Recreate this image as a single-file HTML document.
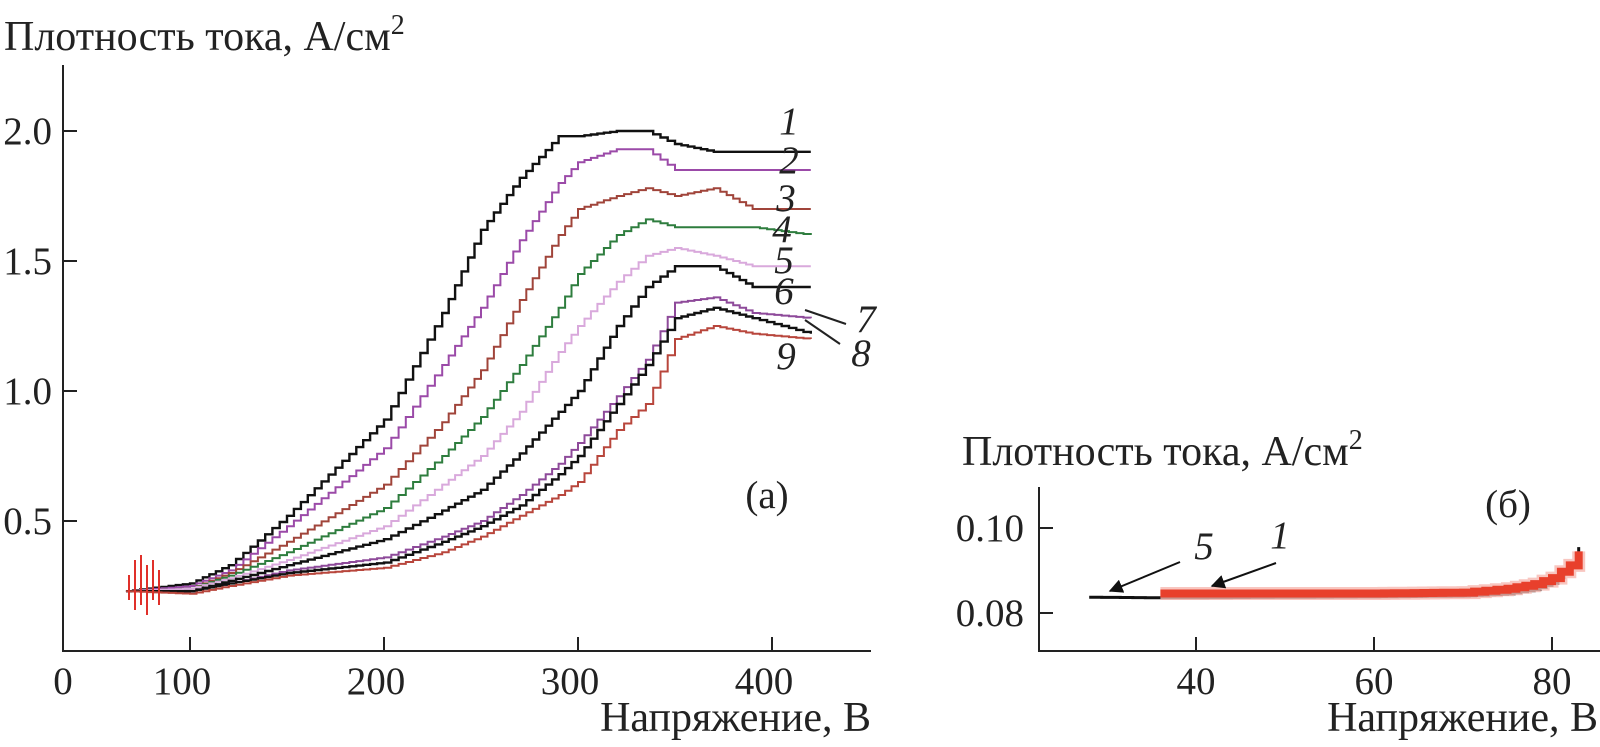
<!DOCTYPE html>
<html><head><meta charset="utf-8">
<style>
html,body{margin:0;padding:0;background:#fff;}
svg{display:block;font-family:"Liberation Serif","Noto Serif CJK SC",serif;}
</style></head>
<body>
<svg id="fig" width="1600" height="747" viewBox="0 0 1600 747" xmlns="http://www.w3.org/2000/svg">
<g id="chartA"></g>
<g id="chartB"></g>
</svg>
<script>
// ---- Chart (a) data ----
const voltA = [67, 100, 120, 150, 200, 230, 250, 270, 290, 300, 320, 335, 350, 370, 390, 420];
const curve1 = [0.23, 0.26, 0.33, 0.52, 0.89, 1.30, 1.62, 1.82, 1.98, 1.98, 2.0, 2.0, 1.95, 1.92, 1.92, 1.92];
const curve2 = [0.23, 0.25, 0.31, 0.48, 0.78, 1.10, 1.32, 1.58, 1.80, 1.88, 1.93, 1.93, 1.85, 1.85, 1.85, 1.85];
const curve3 = [0.23, 0.24, 0.30, 0.42, 0.64, 0.88, 1.08, 1.35, 1.60, 1.70, 1.75, 1.78, 1.75, 1.78, 1.70, 1.70];
const curve4 = [0.23, 0.24, 0.29, 0.38, 0.55, 0.75, 0.90, 1.10, 1.32, 1.45, 1.60, 1.66, 1.63, 1.63, 1.63, 1.60];
const curve5 = [0.23, 0.24, 0.28, 0.35, 0.48, 0.64, 0.75, 0.92, 1.15, 1.25, 1.42, 1.52, 1.55, 1.52, 1.48, 1.48];
const curve6 = [0.23, 0.23, 0.27, 0.33, 0.43, 0.54, 0.62, 0.76, 0.92, 1.00, 1.25, 1.40, 1.48, 1.48, 1.40, 1.40];
const curve7 = [0.23, 0.23, 0.26, 0.31, 0.36, 0.44, 0.50, 0.60, 0.72, 0.80, 0.98, 1.12, 1.34, 1.36, 1.30, 1.28];
const curve8 = [0.23, 0.23, 0.26, 0.30, 0.34, 0.42, 0.48, 0.56, 0.68, 0.75, 0.95, 1.10, 1.28, 1.32, 1.28, 1.22];
const curve9 = [0.23, 0.22, 0.25, 0.29, 0.32, 0.38, 0.44, 0.52, 0.60, 0.65, 0.85, 0.95, 1.20, 1.25, 1.22, 1.20];
const seriesA = [curve1, curve2, curve3, curve4, curve5, curve6, curve7, curve8, curve9];
const colorsA = ["#111", "#9b4aa8", "#a0443a", "#2e7d3e", "#d9a9dc", "#111", "#8e4a9a", "#111", "#b8463c"];
const xTicksA = [100, 200, 300, 400];
const yTicksA = [0.5, 1.0, 1.5, 2.0];
const yTickLabelsA = ["0.5", "1.0", "1.5", "2.0"];

// ---- Chart (b) data ----
const voltB5 = [28, 35, 40, 50, 60, 70, 75, 78, 80, 82, 83];
const dens5 = [0.0837, 0.0836, 0.0836, 0.0837, 0.0838, 0.0840, 0.0845, 0.0855, 0.087, 0.091, 0.0955];
const voltB1 = [36, 40, 50, 60, 70, 75, 78, 80, 82, 83];
const dens1 = [0.0846, 0.0846, 0.0846, 0.0846, 0.0848, 0.0857, 0.0868, 0.0882, 0.0912, 0.0945];
const xTicksB = [40, 60, 80];
const yTicksB = [0.08, 0.10];
const yTickLabelsB = ["0.08", "0.10"];

const NS = "http://www.w3.org/2000/svg";
function mk(parent, tag, attrs, text){
  const e = document.createElementNS(NS, tag);
  for (const k in attrs) e.setAttribute(k, attrs[k]);
  if (text !== undefined) e.textContent = text;
  parent.appendChild(e);
  return e;
}
const xA = v => 190 + (v - 100) * 1.94;
const yA = v => 651 - v * 260;
const xB = v => 1196 + (v - 40) * 8.9;
const yB = v => 613 - (v - 0.08) * 4250;

function stepPath(xs, ys, fx, fy, sub){
  let d = "";
  for (let i = 0; i < xs.length; i++){
    const X = fx(xs[i]), Y = fy(ys[i]);
    if (i === 0){ d += "M" + X + " " + Y; continue; }
    const X0 = fx(xs[i-1]), Y0 = fy(ys[i-1]);
    const n = Math.max(1, Math.round((X - X0) / sub));
    for (let k = 1; k <= n; k++){
      const xx = X0 + (X - X0) * k / n;
      const yy = Y0 + (Y - Y0) * k / n;
      d += " H" + xx.toFixed(1) + " V" + yy.toFixed(1);
    }
  }
  return d;
}
const TF = 39, TT = 42;

// ---- draw chart a ----
const A = document.getElementById("chartA");
let e;
e = mk(A, "line", {x1:63, y1:65, x2:63, y2:651, stroke:"#222", "stroke-width":2});


e = mk(A, "line", {x1:62, y1:651, x2:871, y2:651, stroke:"#222", "stroke-width":2});


xTicksA.forEach((t) => {
  const X = xA(t);
  e = mk(A, "line", {x1:X, y1:651, x2:X, y2:637, stroke:"#222", "stroke-width":2});
  
  
  e = mk(A, "text", {x:X - 8, y:694, "font-size":TF, "text-anchor":"middle", fill:"#222"}, String(t));
  
  
});
e = mk(A, "text", {x:63, y:694, "font-size":TF, "text-anchor":"middle", fill:"#222"}, "0");


yTicksA.forEach((t, i) => {
  const Y = yA(t);
  e = mk(A, "line", {x1:63, y1:Y, x2:77, y2:Y, stroke:"#222", "stroke-width":2});
  
  
  e = mk(A, "text", {x:52, y:Y + 13, "font-size":TF, "text-anchor":"end", fill:"#222"}, yTickLabelsA[i]);
  
  
});
e = mk(A, "text", {x:4, y:50, "font-size":TT, fill:"#222"}, "Плотность тока, А/см");


mk(e, "tspan", {"font-size":28, dy:-16}, "2");
e = mk(A, "text", {x:871, y:731, "font-size":TT, "text-anchor":"end", fill:"#222"}, "Напряжение, В");


e = mk(A, "text", {x:767, y:508, "font-size":TF, "text-anchor":"middle", fill:"#222"}, "(a)");



seriesA.forEach((s, i) => {
  e = mk(A, "path", {d: stepPath(voltA, s, xA, yA, 7), fill:"none", stroke:colorsA[i], "stroke-width": (i===0||i===5||i===7)?2.4:2});
  
  
});
e = mk(A, "path", {d:"M135 560 V610 M141 555 V605 M147 565 V615 M153 560 V600 M159 570 V605 M129 575 V600", stroke:"#e0302a", "stroke-width":2});



const labelsA = [["1",789,134],["2",789,173],["3",786,211],["4",782,242],["5",784,273],["6",784,304],["7",866,332],["8",861,366],["9",786,369]];
labelsA.forEach(l => {
  e = mk(A, "text", {x:l[1], y:l[2], "font-size":TF, "font-style":"italic", "text-anchor":"middle", fill:"#222"}, l[0]);
  
  
});
e = mk(A, "line", {x1:846, y1:324, x2:805, y2:310, stroke:"#222", "stroke-width":2});


e = mk(A, "line", {x1:840, y1:344, x2:805, y2:320, stroke:"#222", "stroke-width":2});



// ---- draw chart b ----
const B = document.getElementById("chartB");
e = mk(B, "line", {x1:1039, y1:487, x2:1039, y2:651, stroke:"#222", "stroke-width":2});


e = mk(B, "line", {x1:1038, y1:651, x2:1600, y2:651, stroke:"#222", "stroke-width":2});


xTicksB.forEach(t => {
  const X = xB(t);
  e = mk(B, "line", {x1:X, y1:651, x2:X, y2:637, stroke:"#222", "stroke-width":2});
  
  
  e = mk(B, "text", {x:X, y:694, "font-size":TF, "text-anchor":"middle", fill:"#222"}, String(t));
  
  
});
yTicksB.forEach((t, i) => {
  const Y = yB(t);
  e = mk(B, "line", {x1:1039, y1:Y, x2:1053, y2:Y, stroke:"#222", "stroke-width":2});
  
  
  e = mk(B, "text", {x:1024, y:Y + 13, "font-size":TF, "text-anchor":"end", fill:"#222"}, yTickLabelsB[i]);
  
  
});
e = mk(B, "text", {x:962, y:465, "font-size":TT, fill:"#222"}, "Плотность тока, А/см");


mk(e, "tspan", {"font-size":28, dy:-16}, "2");
e = mk(B, "text", {x:1598, y:731, "font-size":TT, "text-anchor":"end", fill:"#222"}, "Напряжение, В");


e = mk(B, "text", {x:1508, y:517, "font-size":TF, "text-anchor":"middle", fill:"#222"}, "(б)");



e = mk(B, "path", {d: stepPath(voltB5, dens5, xB, yB, 6), fill:"none", stroke:"#111", "stroke-width":3});


e = mk(B, "path", {d: stepPath(voltB1, dens1, xB, yB, 10), fill:"none", stroke:"#f6b8b0", "stroke-width":13, opacity:0.8});


e = mk(B, "path", {d: stepPath(voltB1, dens1, xB, yB, 10), fill:"none", stroke:"#e8402c", "stroke-width":8});



mk(B, "defs", {}).innerHTML = '<marker id="arr" viewBox="0 0 10 10" refX="9" refY="5" markerWidth="7" markerHeight="7" orient="auto"><path d="M0 0 L10 5 L0 10 z" fill="#111"/></marker>';
e = mk(B, "line", {x1:1180, y1:562, x2:1110, y2:591, stroke:"#111", "stroke-width":2, "marker-end":"url(#arr)"});


e = mk(B, "line", {x1:1276, y1:563, x2:1212, y2:586, stroke:"#111", "stroke-width":2, "marker-end":"url(#arr)"});


e = mk(B, "text", {x:1204, y:559, "font-size":TF, "font-style":"italic", "text-anchor":"middle", fill:"#222"}, "5");


e = mk(B, "text", {x:1280, y:548, "font-size":TF, "font-style":"italic", "text-anchor":"middle", fill:"#222"}, "1");


</script>
</body></html>
